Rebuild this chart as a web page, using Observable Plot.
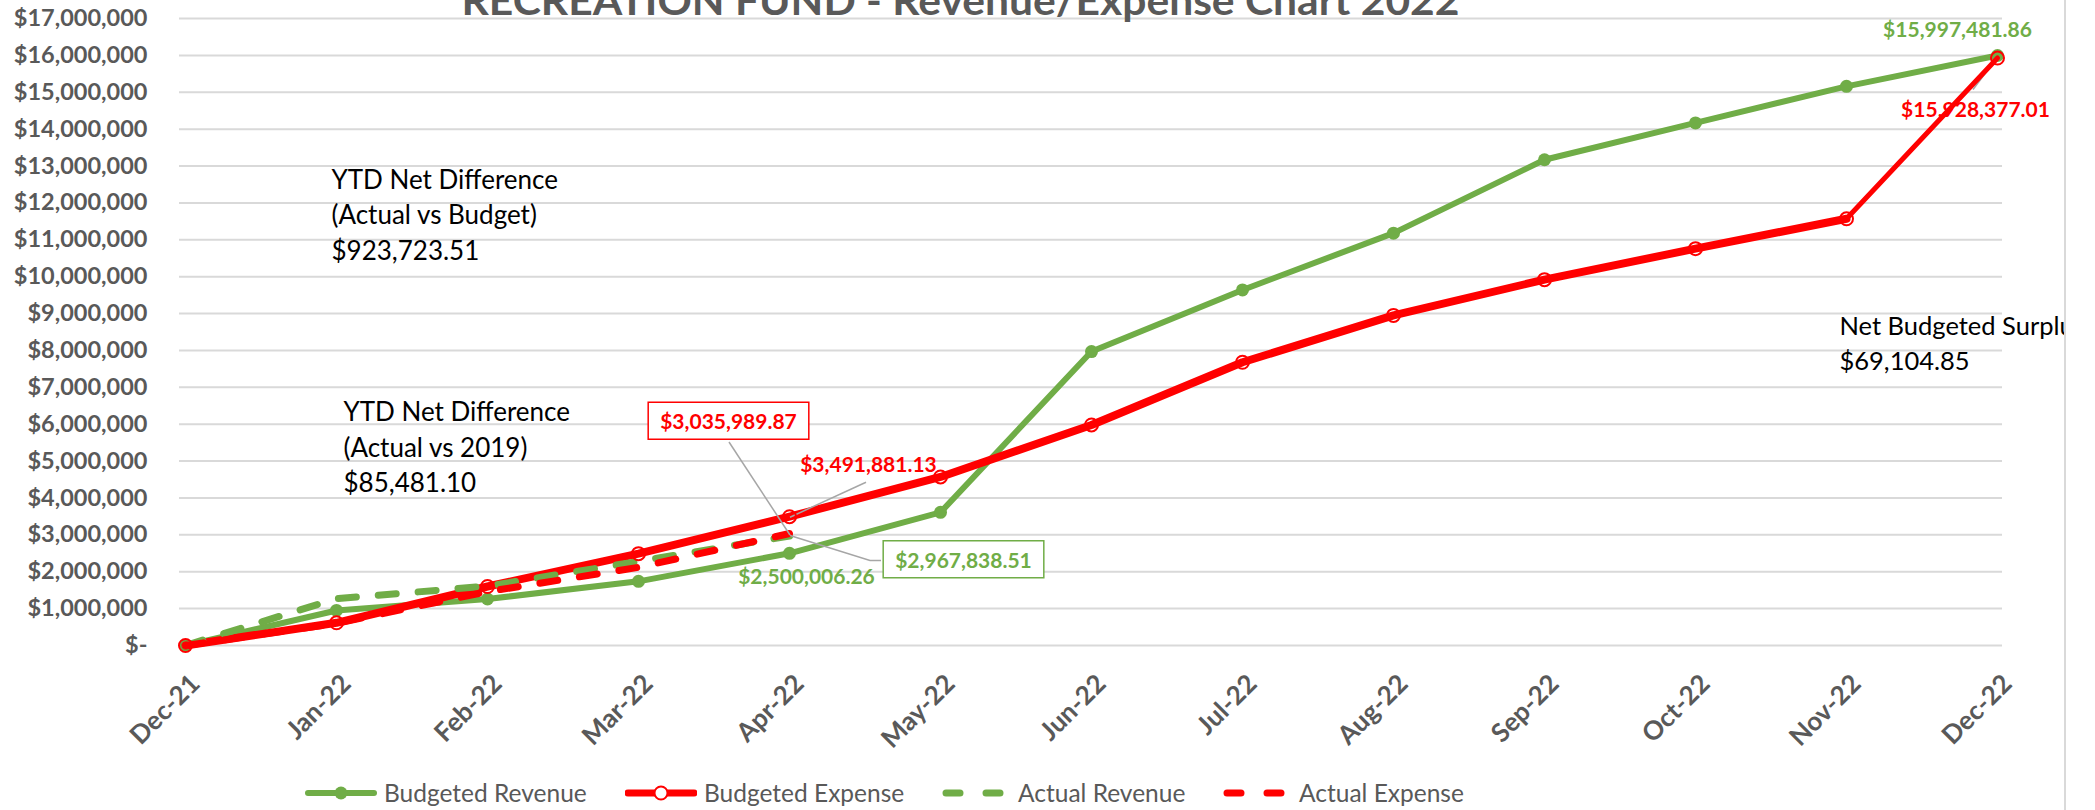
<!DOCTYPE html>
<html>
<head>
<meta charset="utf-8">
<script src="https://cdn.jsdelivr.net/npm/d3@7"></script>
<script src="https://cdn.jsdelivr.net/npm/@observablehq/plot@0.6"></script>
<style>
html, body { margin: 0; padding: 0; background: #fff; overflow: hidden; width: 2095px; height: 810px; }
#wrap { position: relative; width: 2095px; height: 810px; font-family: Lato, sans-serif; }
#chart svg { display: block; }
#legend { position: absolute; left: 0; top: 770px; width: 2095px; height: 46px; }
.sw { position: absolute; top: 0; height: 46px; }
.lt { position: absolute; top: 0; height: 46px; line-height: 46px; font-size: 24.5px; color: #595959; white-space: nowrap; }
#edge { position: absolute; left: 2064px; top: 0; width: 31px; height: 810px; background: #fff; border-left: 2px solid #d9d9d9; box-sizing: border-box; }
</style>
</head>
<body>
<div id="wrap">
  <div id="chart"></div>
  <div id="legend"></div>
  <div id="edge"></div>
</div>
<script>
// ---------- data ----------
const months = ["Dec-21","Jan-22","Feb-22","Mar-22","Apr-22","May-22","Jun-22","Jul-22","Aug-22","Sep-22","Oct-22","Nov-22","Dec-22"];
const budgetedRevenue = [0, 950000, 1260000, 1740000, 2500006.26, 3610000, 7970000, 9640000, 11180000, 13170000, 14170000, 15160000, 15997481.86];
const budgetedExpense = [0, 615000, 1600000, 2490000, 3491881.13, 4570000, 5980000, 7680000, 8950000, 9920000, 10760000, 11570000, 15928377.01];
const actualMonths = ["Dec-21","Jan-22","Feb-22","Mar-22","Apr-22"];
const actualRevenue = [0, 1270000, 1610000, 2280000, 2967838.51];
const actualExpense = [0, 600000, 1460000, 2120000, 3035989.87];
const yTicks = [0,1000000,2000000,3000000,4000000,5000000,6000000,7000000,8000000,9000000,10000000,11000000,12000000,13000000,14000000,15000000,16000000,17000000];
const seriesNames = ["Budgeted Revenue","Budgeted Expense","Actual Revenue","Actual Expense"];
const titleText = "RECREATION FUND - Revenue/Expense Chart 2022";
const noteBudget = "YTD Net Difference\n(Actual vs Budget)\n$923,723.51";
const note2019 = "YTD Net Difference\n(Actual vs 2019)\n$85,481.10";
const noteSurplus = "Net Budgeted Surplus\n$69,104.85";

// ---------- tables ----------
const br = months.map((m, i) => ({month: m, value: budgetedRevenue[i]}));
const be = months.map((m, i) => ({month: m, value: budgetedExpense[i]}));
const beMain = be.slice(0, 12);
const beLast = be.slice(11);
const ar = actualMonths.map((m, i) => ({month: m, value: actualRevenue[i]}));
const ae = actualMonths.map((m, i) => ({month: m, value: actualExpense[i]}));

const green = "#70AD47", red = "#FF0000", gray = "#595959", grid = "#D9D9D9", leaderC = "#A6A6A6";
const money = d => "$" + d3.format(",.2f")(d);
const fmtY = d => d === 0 ? "$-" : "$" + d3.format(",")(d);
const lbl = {x: "month", y: "value", text: d => money(d.value), fontWeight: "bold", fontSize: 21, textAnchor: "middle", lineAnchor: "middle"};

const plot = Plot.plot({
  width: 2095, height: 770,
  marginLeft: 179, marginRight: 93, marginTop: 18, marginBottom: 125,
  style: {fontFamily: "Lato, sans-serif", background: "white"},
  x: {type: "point", domain: months, padding: 0},
  y: {domain: [0, 17000000]},
  marks: [
    Plot.ruleY(yTicks, {stroke: grid, strokeWidth: 2}),
    Plot.axisY({ticks: yTicks, tickSize: 0, tickPadding: 32, tickFormat: fmtY, fontSize: 23.5, fontWeight: "bold", color: gray, label: null}),
    Plot.axisX({tickSize: 0, tickRotate: -45, tickPadding: 34, dx: 10, fontSize: 26, fontWeight: "bold", color: gray, label: null}),
    Plot.line(br, {x: "month", y: "value", stroke: green, strokeWidth: 6, strokeLinejoin: "round"}),
    Plot.dot(br, {x: "month", y: "value", r: 6.5, fill: green}),
    Plot.line(beMain, {x: "month", y: "value", stroke: red, strokeWidth: 8, strokeLinejoin: "round"}),
    Plot.line(ar, {x: "month", y: "value", stroke: green, strokeWidth: 7, strokeDasharray: "18,22", strokeLinecap: "round"}),
    Plot.line(ae, {x: "month", y: "value", stroke: red, strokeWidth: 7, strokeDasharray: "18,22", strokeLinecap: "round"}),
    // data labels
    Plot.text([br[12]], {...lbl, fill: green, dx: -40, dy: -25}),
    Plot.text([be[12]], {...lbl, fill: red, dx: -22, dy: 52}),
    Plot.text([be[4]], {...lbl, fill: red, dx: 79, dy: -51}),
    Plot.text([br[4]], {...lbl, fill: green, dx: 17, dy: 24}),
    Plot.text([ae[4]], {...lbl, fill: red, dx: -61, dy: -111}),
    Plot.text([ar[4]], {...lbl, fill: green, dx: 174, dy: 25}),
    // last budgeted-expense segment drawn over its label, as in the original
    Plot.line(beLast, {x: "month", y: "value", stroke: red, strokeWidth: 5, strokeLinejoin: "round"}),
    Plot.dot(be, {x: "month", y: "value", r: 6.5, stroke: red, strokeWidth: 2, fill: "none"}),
    // title + notes
    Plot.text([titleText], {text: d => d, frameAnchor: "top", dx: -130.5, dy: -4, lineAnchor: "bottom", fontSize: 41, fontWeight: "bold", fill: gray}),
    Plot.text([noteBudget], {text: d => d, frameAnchor: "top-left", dx: 152, dy: 194.5, textAnchor: "start", lineAnchor: "middle", lineHeight: 1.365, fontSize: 26, fill: "#000"}),
    Plot.text([note2019], {text: d => d, frameAnchor: "top-left", dx: 164, dy: 427, textAnchor: "start", lineAnchor: "middle", lineHeight: 1.365, fontSize: 26, fill: "#000"}),
    Plot.text([noteSurplus], {text: d => d, frameAnchor: "top-left", dx: 1660, dy: 322.5, textAnchor: "start", lineAnchor: "middle", lineHeight: 1.365, fontSize: 25.5, fill: "#000"})
  ]
});
document.getElementById("chart").append(plot);

// ---------- post-processing: title width, leaders, boxes ----------
const svgNS = "http://www.w3.org/2000/svg";
const sx = plot.scale("x"), sy = plot.scale("y");
const allText = Array.from(plot.querySelectorAll("text"));
const findText = s => allText.find(t => t.textContent === s);
const markGroup = el => { let g = el; while (g.parentNode && g.parentNode !== plot) g = g.parentNode; return g; };

const tEl = findText(titleText);
if (tEl) { tEl.setAttribute("textLength", 998); tEl.setAttribute("lengthAdjust", "spacingAndGlyphs"); }

function leader(beforeEl, pts) {
  const p = document.createElementNS(svgNS, "path");
  p.setAttribute("d", "M" + pts.map(q => q.join(",")).join("L"));
  p.setAttribute("fill", "none");
  p.setAttribute("stroke", leaderC);
  p.setAttribute("stroke-width", 1.5);
  plot.insertBefore(p, markGroup(beforeEl));
}
function box(el, color) {
  const r = el.getBoundingClientRect(), s = plot.getBoundingClientRect();
  const rect = document.createElementNS(svgNS, "rect");
  rect.setAttribute("x", r.left - s.left - 12);
  rect.setAttribute("y", r.top - s.top - 6);
  rect.setAttribute("width", r.width + 24);
  rect.setAttribute("height", r.height + 12);
  rect.setAttribute("fill", "#fff");
  rect.setAttribute("stroke", color);
  rect.setAttribute("stroke-width", 1.5);
  plot.insertBefore(rect, markGroup(el));
}
const P = (m, v) => [sx.apply(m), sy.apply(v)];
const add = (p, dx, dy) => [p[0] + dx, p[1] + dy];

const eDec = findText(money(be[12].value));
const pDec = P("Dec-22", be[12].value);
if (eDec) leader(eDec, [add(pDec, -2, 3), add(pDec, -24, 32)]);

const eApr = findText(money(be[4].value));
const pApr = P("Apr-22", be[4].value);
if (eApr) leader(eApr, [add(pApr, 1, 1), add(pApr, 77, -34)]);

const eAE = findText(money(ae[4].value));
const pAE = P("Apr-22", ae[4].value);
if (eAE) { leader(eAE, [add(pAE, 1, 2), add(pAE, -60, -91)]); box(eAE, red); }

const eAR = findText(money(ar[4].value));
const pAR = P("Apr-22", ar[4].value);
if (eAR) { leader(eAR, [add(pAR, 1, 0), add(pAR, 81, 25), add(pAR, 92, 25)]); box(eAR, green); }

// ---------- legend ----------
const legend = document.getElementById("legend");
const items = [
  {name: seriesNames[0], sw: 305, tx: 384, w: 72, kind: "dot", color: green},
  {name: seriesNames[1], sw: 625, tx: 704, w: 72, kind: "ring", color: red},
  {name: seriesNames[2], sw: 942, tx: 1018, w: 63, kind: "dash", color: green},
  {name: seriesNames[3], sw: 1223, tx: 1299, w: 66, kind: "dash", color: red}
];
for (const it of items) {
  const s = d3.create("svg").attr("class", "sw").attr("width", it.w).attr("height", 46)
    .style("left", it.sw + "px");
  if (it.kind === "dash") {
    s.append("line").attr("x1", 4).attr("x2", it.w - 4).attr("y1", 23).attr("y2", 23)
      .attr("stroke", it.color).attr("stroke-width", 7).attr("stroke-linecap", "round")
      .attr("stroke-dasharray", "14,26");
  } else {
    s.append("line").attr("x1", 3).attr("x2", it.w - 3).attr("y1", 23).attr("y2", 23)
      .attr("stroke", it.color).attr("stroke-width", it.kind === "dot" ? 6 : 7).attr("stroke-linecap", "round");
    if (it.kind === "dot") s.append("circle").attr("cx", it.w / 2).attr("cy", 23).attr("r", 6.5).attr("fill", it.color);
    else s.append("circle").attr("cx", it.w / 2).attr("cy", 23).attr("r", 6.5).attr("fill", "#fff").attr("stroke", it.color).attr("stroke-width", 2);
  }
  legend.append(s.node());
  const t = document.createElement("div");
  t.className = "lt";
  t.style.left = it.tx + "px";
  t.textContent = it.name;
  legend.append(t);
}
</script>
</body>
</html>
